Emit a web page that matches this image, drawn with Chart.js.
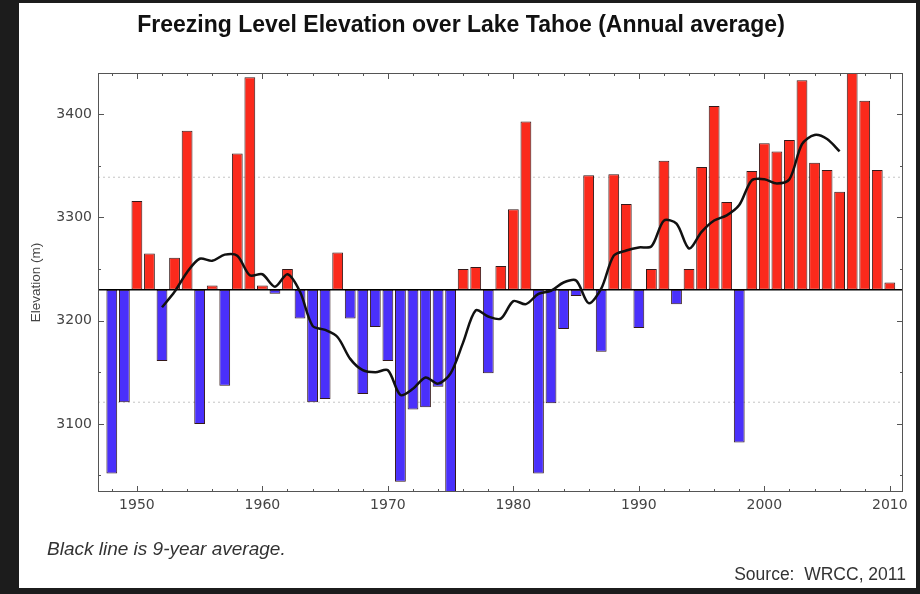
<!DOCTYPE html>
<html>
<head>
<meta charset="utf-8">
<script src="https://cdn.jsdelivr.net/npm/chart.js@4/dist/chart.umd.min.js"></script>
<style>
  html, body { margin: 0; padding: 0; background: #1c1c1c; }
  #panel { position: absolute; left: 19px; top: 3px; width: 897px; height: 585px; background: #fff; overflow: hidden; }
  #chart { position: absolute; left: 0; top: 0; }
  .note { position: absolute; font-family: "Liberation Sans", Arial, sans-serif; color: #333; white-space: nowrap; }
  #avgNote { left: 28px; top: 535px; font-size: 19px; font-style: italic; }
  #source { right: 10px; top: 561px; font-size: 17.5px; }
</style>
</head>
<body>
<div id="panel">
  <canvas id="chart" width="888" height="585"></canvas>
  <div class="note" id="avgNote">Black line is 9-year average.</div>
  <div class="note" id="source">Source:&nbsp; WRCC, 2011</div>
</div>
<script>
const years = [1948, 1949, 1950, 1951, 1952, 1953, 1954, 1955, 1956, 1957,
  1958, 1959, 1960, 1961, 1962, 1963, 1964, 1965, 1966, 1967,
  1968, 1969, 1970, 1971, 1972, 1973, 1974, 1975, 1976, 1977,
  1978, 1979, 1980, 1981, 1982, 1983, 1984, 1985, 1986, 1987,
  1988, 1989, 1990, 1991, 1992, 1993, 1994, 1995, 1996, 1997,
  1998, 1999, 2000, 2001, 2002, 2003, 2004, 2005, 2006, 2007,
  2008, 2009, 2010];

// annual average freezing level (m)
const elevation = [3052, 3121, 3316, 3265, 3161, 3261, 3384, 3100, 3234, 3137,
  3362, 3436, 3234, 3226, 3250, 3202, 3121, 3124, 3266, 3202,
  3129, 3194, 3161, 3044, 3114, 3116, 3136, 3030, 3250, 3252,
  3149, 3253, 3308, 3393, 3052, 3120, 3192, 3224, 3341, 3170,
  3342, 3313, 3193, 3250, 3355, 3216, 3250, 3349, 3408, 3315,
  3082, 3345, 3372, 3364, 3375, 3433, 3353, 3346, 3325, 3448,
  3413, 3346, 3237];

// 9-year running average, 1952 - 2006
const avgYears = [1952, 1953, 1954, 1955, 1956, 1957, 1958, 1959, 1960, 1961,
  1962, 1963, 1964, 1965, 1966, 1967, 1968, 1969, 1970, 1971,
  1972, 1973, 1974, 1975, 1976, 1977, 1978, 1979, 1980, 1981,
  1982, 1983, 1984, 1985, 1986, 1987, 1988, 1989, 1990, 1991,
  1992, 1993, 1994, 1995, 1996, 1997, 1998, 1999, 2000, 2001,
  2002, 2003, 2004, 2005, 2006];
const avgValues = [3213, 3228, 3247, 3260, 3258, 3264, 3263, 3244, 3245, 3233,
  3245, 3228, 3195, 3191, 3184, 3163, 3152, 3150, 3152, 3128,
  3134, 3145, 3139, 3149, 3179, 3210, 3204, 3202, 3219, 3216,
  3226, 3229, 3237, 3239, 3217, 3231, 3263, 3268, 3271, 3272,
  3297, 3294, 3270, 3286, 3297, 3302, 3312, 3336, 3337, 3333,
  3337, 3371, 3380, 3376, 3364];

const baseline = 3230;          // long-term mean, bars start here
const spreadLines = [3339, 3121]; // dotted lines above / below the mean
const xTicks = [1950, 1960, 1970, 1980, 1990, 2000, 2010];
const yTicks = [3100, 3200, 3300, 3400];
const xMin = 1946.9, xMax = 2011.05;
const yMin = 3034, yMax = 3440;

const red = '#fb2a1c';
const blue = '#4a30fb';

const barData = years.map((y, i) => ({ x: y, y: [baseline, elevation[i]] }));
const barColors = elevation.map(v => v >= baseline ? red : blue);

// inward ticks + axes box, matplotlib style
const frameTicks = {
  id: 'frameTicks',
  afterDraw(chart) {
    const { ctx, chartArea: a, scales: { x, y } } = chart;
    ctx.save();
    ctx.strokeStyle = '#555';
    ctx.lineWidth = 1;
    ctx.strokeRect(a.left + 0.5, a.top + 0.5, a.right - a.left - 1, a.bottom - a.top - 1);
    ctx.beginPath();
    for (let yr = 1948; yr <= 2010; yr += 2) {
      const px = Math.round(x.getPixelForValue(yr)) + 0.5;
      const len = yr % 10 === 0 ? 6 : 3;
      ctx.moveTo(px, a.bottom); ctx.lineTo(px, a.bottom - len);
      ctx.moveTo(px, a.top); ctx.lineTo(px, a.top + len);
    }
    for (let v = 3050; v <= 3400; v += 50) {
      const py = Math.round(y.getPixelForValue(v)) + 0.5;
      const len = v % 100 === 0 ? 6 : 3;
      ctx.moveTo(a.left, py); ctx.lineTo(a.left + len, py);
      ctx.moveTo(a.right, py); ctx.lineTo(a.right - len, py);
    }
    ctx.stroke();
    ctx.restore();
  }
};

const ctx = document.getElementById('chart').getContext('2d');

new Chart(ctx, {
  type: 'bar',
  data: {
    datasets: [
      {
        type: 'line',
        label: '9-year average',
        data: avgYears.map((y, i) => ({ x: y, y: avgValues[i] })),
        borderColor: '#111',
        borderWidth: 2.5,
        pointRadius: 0,
        tension: 0.3,
        order: 0
      },
      {
        type: 'line',
        label: 'mean',
        data: [{ x: xMin, y: baseline }, { x: xMax, y: baseline }],
        borderColor: '#000',
        borderWidth: 1.5,
        pointRadius: 0,
        order: 1
      },
      {
        label: 'Freezing level',
        data: barData,
        backgroundColor: barColors,
        borderColor: 'rgba(30,0,0,0.9)',
        borderWidth: 1,
        borderSkipped: false,
        barPercentage: 0.86,
        categoryPercentage: 1,
        order: 2
      },
      ...spreadLines.map(v => ({
        type: 'line',
        label: 'spread',
        data: [{ x: xMin, y: v }, { x: xMax, y: v }],
        borderColor: '#c4c4c4',
        borderWidth: 1,
        borderDash: [2, 3],
        pointRadius: 0,
        order: 3
      }))
    ]
  },
  options: {
    responsive: false,
    animation: false,
    layout: { padding: { left: 0, right: 4, top: 0, bottom: 0 } },
    plugins: {
      legend: { display: false },
      tooltip: { enabled: false },
      title: {
        display: true,
        text: 'Freezing Level Elevation over Lake Tahoe (Annual average)',
        color: '#111',
        font: { family: '"Liberation Sans", Arial, sans-serif', size: 23, weight: 'bold' },
        padding: { top: 9, bottom: 33.4 }
      }
    },
    scales: {
      x: {
        type: 'linear',
        min: xMin,
        max: xMax,
        offset: false,
        grid: { display: false, drawTicks: false },
        border: { display: false },
        afterBuildTicks: s => { s.ticks = xTicks.map(v => ({ value: v })); },
        afterFit: s => { s.height = 96; s.paddingLeft = 0; s.paddingRight = 0; },
        ticks: {
          color: '#444',
          padding: 5,
          maxRotation: 0,
          autoSkip: false,
          font: { family: '"DejaVu Sans", sans-serif', size: 14 },
          callback: v => String(v)
        }
      },
      y: {
        min: yMin,
        max: yMax,
        grid: { display: false, drawTicks: false },
        border: { display: false },
        afterBuildTicks: s => { s.ticks = yTicks.map(v => ({ value: v })); },
        afterFit: s => { s.width = 79; },
        title: {
          display: true,
          text: 'Elevation (m)',
          color: '#444',
          font: { family: '"Liberation Sans", Arial, sans-serif', size: 13.5 },
          padding: { top: 9, bottom: 0 }
        },
        ticks: {
          color: '#444',
          padding: 6,
          font: { family: '"DejaVu Sans", sans-serif', size: 14 },
          callback: v => String(v)
        }
      }
    }
  },
  plugins: [frameTicks]
});
</script>
</body>
</html>
